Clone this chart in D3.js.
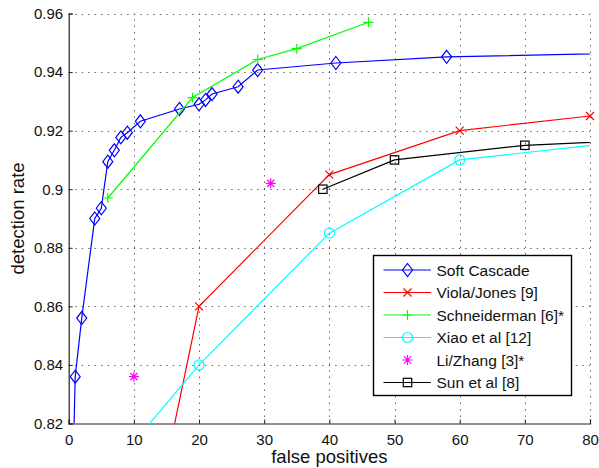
<!DOCTYPE html>
<html>
<head>
<meta charset="utf-8">
<script src="https://cdn.jsdelivr.net/npm/d3@7"></script>
<style>
  html, body { margin: 0; padding: 0; background: #fff; }
  svg { display: block; font-family: "Liberation Sans", Arial, Helvetica, sans-serif; }
</style>
</head>
<body>
<svg id="chart" width="599" height="468"></svg>
<script>
// ROC comparison: detection rate vs. number of false positives
const xTicks = [0, 10, 20, 30, 40, 50, 60, 70, 80];
const yTicks = [0.82, 0.84, 0.86, 0.88, 0.9, 0.92, 0.94, 0.96];
const yTickLabels = ["0.82", "0.84", "0.86", "0.88", "0.9", "0.92", "0.94", "0.96"];

const seriesNames = ["Soft Cascade", "Viola/Jones [9]", "Schneiderman [6]*", "Xiao et al [12]", "Li/Zhang [3]*", "Sun et al [8]"];

const softX = [0.5, 1, 2, 4, 5, 6, 7, 8, 9, 11, 17, 20, 21, 22, 26, 29, 41, 58, 100];
const softY = [0.79, 0.836, 0.856, 0.89, 0.8935, 0.9094, 0.9133, 0.9177, 0.9193, 0.9232, 0.9274, 0.929, 0.9305, 0.9325, 0.935, 0.9407, 0.9431, 0.9452, 0.9471];

const violaX = [10, 20, 40, 60, 80];
const violaY = [0.753, 0.86, 0.905, 0.92, 0.925];

const schneiX = [6, 19, 29, 35, 46];
const schneiY = [0.897, 0.9313, 0.9443, 0.948, 0.957];

const xiaoX = [10, 20, 40, 60, 100];
const xiaoY = [0.8136, 0.84, 0.885, 0.91, 0.92];

const liX = [10, 31];
const liY = [0.836, 0.902];

const sunX = [39, 50, 70, 100];
const sunY = [0.9, 0.91, 0.915, 0.918];

const series = [
  { name: seriesNames[0], xs: softX, ys: softY, color: "#0000ff", marker: "diamond", line: true },
  { name: seriesNames[1], xs: violaX, ys: violaY, color: "#ff0000", marker: "x", line: true },
  { name: seriesNames[2], xs: schneiX, ys: schneiY, color: "#00ff00", marker: "plus", line: true },
  { name: seriesNames[3], xs: xiaoX, ys: xiaoY, color: "#00ffff", marker: "circle", line: true },
  { name: seriesNames[4], xs: liX, ys: liY, color: "#ff00ff", marker: "star", line: false },
  { name: seriesNames[5], xs: sunX, ys: sunY, color: "#000000", marker: "square", line: true }
];

const svg = d3.select("#chart");
const plotL = 68.7, plotR = 590, plotT = 13.5, plotB = 423.5;

const x = d3.scaleLinear().domain([0, 80]).range([plotL, plotR]);
const y = d3.scaleLinear().domain([0.82, 0.96]).range([plotB, plotT]);

svg.append("defs").append("clipPath").attr("id", "plotClip")
  .append("rect").attr("x", plotL).attr("y", plotT)
  .attr("width", plotR - plotL).attr("height", plotB - plotT);

// dotted grid
const grid = svg.append("g").attr("stroke", "#000").attr("stroke-opacity", 0.6)
  .attr("stroke-width", 1).attr("stroke-dasharray", "1.5,5");
grid.selectAll("line.v").data(xTicks.filter(d => d > 0)).join("line")
  .attr("class", "v")
  .attr("x1", d => Math.round(x(d)) + 0.5).attr("x2", d => Math.round(x(d)) + 0.5)
  .attr("y1", plotB).attr("y2", plotT);
grid.selectAll("line.h").data(yTicks.filter(d => d > 0.82)).join("line")
  .attr("class", "h")
  .attr("x1", plotL).attr("x2", plotR)
  .attr("y1", d => Math.round(y(d)) + 0.5).attr("y2", d => Math.round(y(d)) + 0.5);

// axes (left and bottom, ticks pointing inward)
const xAxis = d3.axisBottom(x).tickValues(xTicks).tickSize(-4).tickPadding(10.5).tickFormat(d3.format("d"));
const yAxis = d3.axisLeft(y).tickValues(yTicks).tickSize(-4).tickPadding(5.5)
  .tickFormat((d, i) => yTickLabels[i]);

const gx = svg.append("g").attr("transform", `translate(0,${plotB})`).call(xAxis);
const gy = svg.append("g").attr("transform", `translate(${plotL},0)`).call(yAxis);
[gx, gy].forEach(g => {
  g.select(".domain").attr("stroke", "#222").attr("stroke-width", 1.2);
  g.selectAll(".tick line").attr("stroke", "#222");
  g.selectAll(".tick text").attr("fill", "#111").attr("font-size", 15)
    .attr("font-family", "Liberation Sans, Arial, sans-serif");
});

// axis titles
svg.append("text").attr("x", (plotL + plotR) / 2).attr("y", 463)
  .attr("text-anchor", "middle").attr("font-size", 18.5).attr("fill", "#111")
  .text("false positives");
svg.append("text").attr("transform", `translate(24,${(plotT + plotB) / 2}) rotate(-90)`)
  .attr("text-anchor", "middle").attr("font-size", 18.5).attr("fill", "#111")
  .text("detection rate");

// marker shapes
function drawMarker(g, type, cx, cy, color) {
  const s = g.append("g").attr("transform", `translate(${cx},${cy})`)
    .attr("fill", "none").attr("stroke", color).attr("stroke-width", 1.2);
  if (type === "diamond") {
    s.append("path").attr("d", "M0,-6.5L5,0L0,6.5L-5,0Z");
  } else if (type === "x") {
    s.append("path").attr("d", "M-4,-4L4,4M-4,4L4,-4");
  } else if (type === "plus") {
    s.append("path").attr("d", "M-5,0L5,0M0,-5L0,5");
  } else if (type === "circle") {
    s.append("circle").attr("r", 5);
  } else if (type === "star") {
    s.append("path").attr("d", "M-5,0L5,0M0,-5L0,5M-3.6,-3.6L3.6,3.6M-3.6,3.6L3.6,-3.6");
  } else if (type === "square") {
    s.append("rect").attr("x", -4.2).attr("y", -4.2).attr("width", 8.4).attr("height", 8.4);
  }
}

const plot = svg.append("g");
const lineGen = d3.line().x(d => x(d[0])).y(d => y(d[1]));

series.forEach(s => {
  const pts = s.xs.map((v, i) => [v, s.ys[i]]);
  if (s.line) {
    plot.append("path").datum(pts)
      .attr("clip-path", "url(#plotClip)")
      .attr("d", lineGen)
      .attr("fill", "none").attr("stroke", s.color).attr("stroke-width", 1.2);
  }
  pts.filter(p => p[0] >= 0 && p[0] <= 80 && p[1] >= 0.82 && p[1] <= 0.96)
    .forEach(p => drawMarker(plot, s.marker, x(p[0]), y(p[1]), s.color));
});

// legend
const lg = svg.append("g");
lg.append("rect").attr("x", 373.5).attr("y", 255.5).attr("width", 198).attr("height", 140)
  .attr("fill", "#fff").attr("stroke", "#000").attr("stroke-width", 1.4);
series.forEach((s, i) => {
  const ry = 270 + i * 22.5;
  if (s.line) {
    lg.append("line").attr("x1", 383.5).attr("x2", 431).attr("y1", ry).attr("y2", ry)
      .attr("stroke", s.color).attr("stroke-width", 1.2);
  }
  drawMarker(lg, s.marker, 407.5, ry, s.color);
  lg.append("text").attr("x", 436.5).attr("y", ry + 5.5)
    .attr("font-size", 15.5).attr("fill", "#111").text(s.name);
});
</script>
</body>
</html>
